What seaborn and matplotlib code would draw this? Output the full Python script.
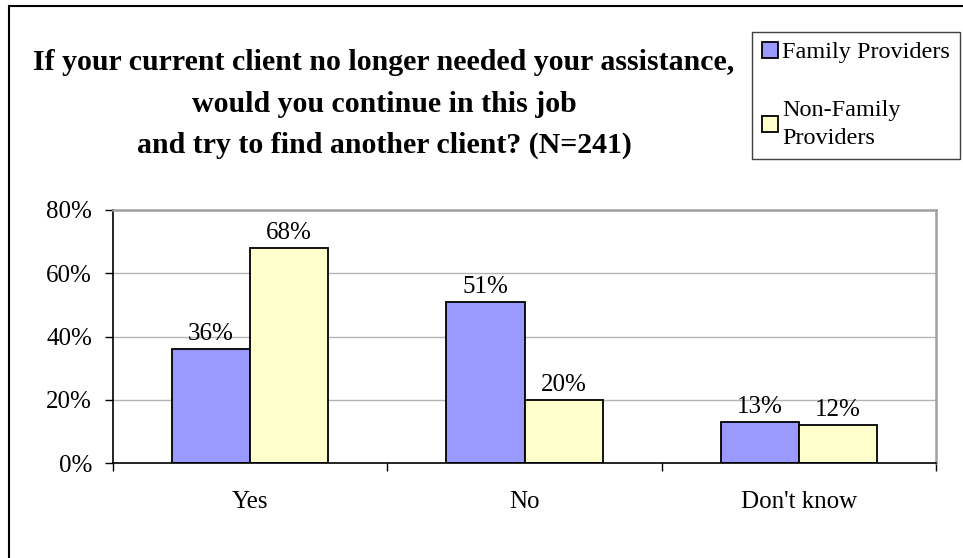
import matplotlib
matplotlib.use("Agg")
import matplotlib.pyplot as plt
from matplotlib.patches import Rectangle
from matplotlib.ticker import FixedLocator
import seaborn as sns
import pandas as pd

# Survey answers by provider group (percent)
categories = ["Yes", "No", "Don't know"]
family_providers = [36, 51, 13]
non_family_providers = [68, 20, 12]
series_names = ["Family Providers", "Non-Family Providers"]
legend_labels = ["Family Providers", "Non-Family\nProviders"]
y_ticks = [0, 20, 40, 60, 80]
title_lines = [
    "If your current client no longer needed your assistance,",
    "would you continue in this job",
    "and try to find another client? (N=241)",
]

df = pd.DataFrame({
    "answer": categories * 2,
    "group": [series_names[0]] * 3 + [series_names[1]] * 3,
    "pct": family_providers + non_family_providers,
})

sns.set_theme(style="white")
plt.rcParams["font.family"] = ["Liberation Serif", "DejaVu Serif"]
plt.rcParams.update({
    "text.color": "black",
    "axes.labelcolor": "black",
    "xtick.color": "black",
    "ytick.color": "black",
})

W, H = 963, 558
fig = plt.figure(figsize=(W / 100, H / 100), dpi=100)
ax = fig.add_axes([113 / W, 1 - 463 / H, (936 - 113) / W, (463 - 210) / H])

sns.barplot(
    data=df, x="answer", y="pct", hue="group", order=categories,
    hue_order=series_names, palette=["#9999FF", "#FFFFCC"], saturation=1,
    width=0.57, edgecolor="black", linewidth=1.3, ax=ax, errorbar=None,
    legend=True,
)

ax.set_xlim(-0.5, len(categories) - 0.5)
ax.set_ylim(0, 80)
ax.set_yticks(y_ticks)
ax.set_yticklabels([f"{v}%" for v in y_ticks], fontsize=18)
ax.set_xlabel("")
ax.set_ylabel("")
ax.grid(axis="y", color="#B4B4B4", linewidth=1)
ax.set_axisbelow(True)

# Category labels at group centres, tick marks at group boundaries
ax.tick_params(axis="x", which="major", length=0, pad=20, labelsize=18)
ax.xaxis.set_minor_locator(FixedLocator([i - 0.5 for i in range(len(categories) + 1)]))
ax.tick_params(axis="x", which="minor", length=6, width=1, color="black", direction="out", bottom=True)
ax.tick_params(axis="y", length=6, width=1, color="black", direction="out", left=True, pad=9)

for side in ["top", "right"]:
    ax.spines[side].set_color("#A0A0A0")
    ax.spines[side].set_linewidth(1.8)
for side in ["left", "bottom"]:
    ax.spines[side].set_color("black")
    ax.spines[side].set_linewidth(1.2)

# Value labels above each bar
for container in ax.containers:
    ax.bar_label(container, labels=[f"{v:.0f}%" for v in container.datavalues],
                 fontsize=18, padding=3, color="black")

# Legend box at top right
handles, _ = ax.get_legend_handles_labels()
ax.legend_.remove()
leg = fig.legend(
    handles, legend_labels, loc="upper right",
    bbox_to_anchor=(960 / W, 1 - 32 / H), bbox_transform=fig.transFigure,
    fontsize=17.5, frameon=True, fancybox=False, framealpha=1,
    edgecolor="#404040", handlelength=0.65, handleheight=0.65,
    handletextpad=0.2, labelspacing=1.5, borderpad=0.4, borderaxespad=0,
)
leg.get_frame().set_linewidth(1.0)
for t in leg.get_texts():
    t.set_linespacing(1.45)
    t.set_color("black")

# Title lines
for text, y in zip(title_lines, [62, 104, 145]):
    fig.text(384 / W, 1 - y / H, text, ha="center", va="center",
             fontsize=21.5, fontweight="bold", color="black")

# Outer chart border
fig.add_artist(Rectangle((9 / W, -0.1), 1.2, 1 - 6 / H + 0.1,
                         transform=fig.transFigure, fill=False,
                         edgecolor="black", linewidth=1.5))

fig.savefig("out.png", dpi=100)
